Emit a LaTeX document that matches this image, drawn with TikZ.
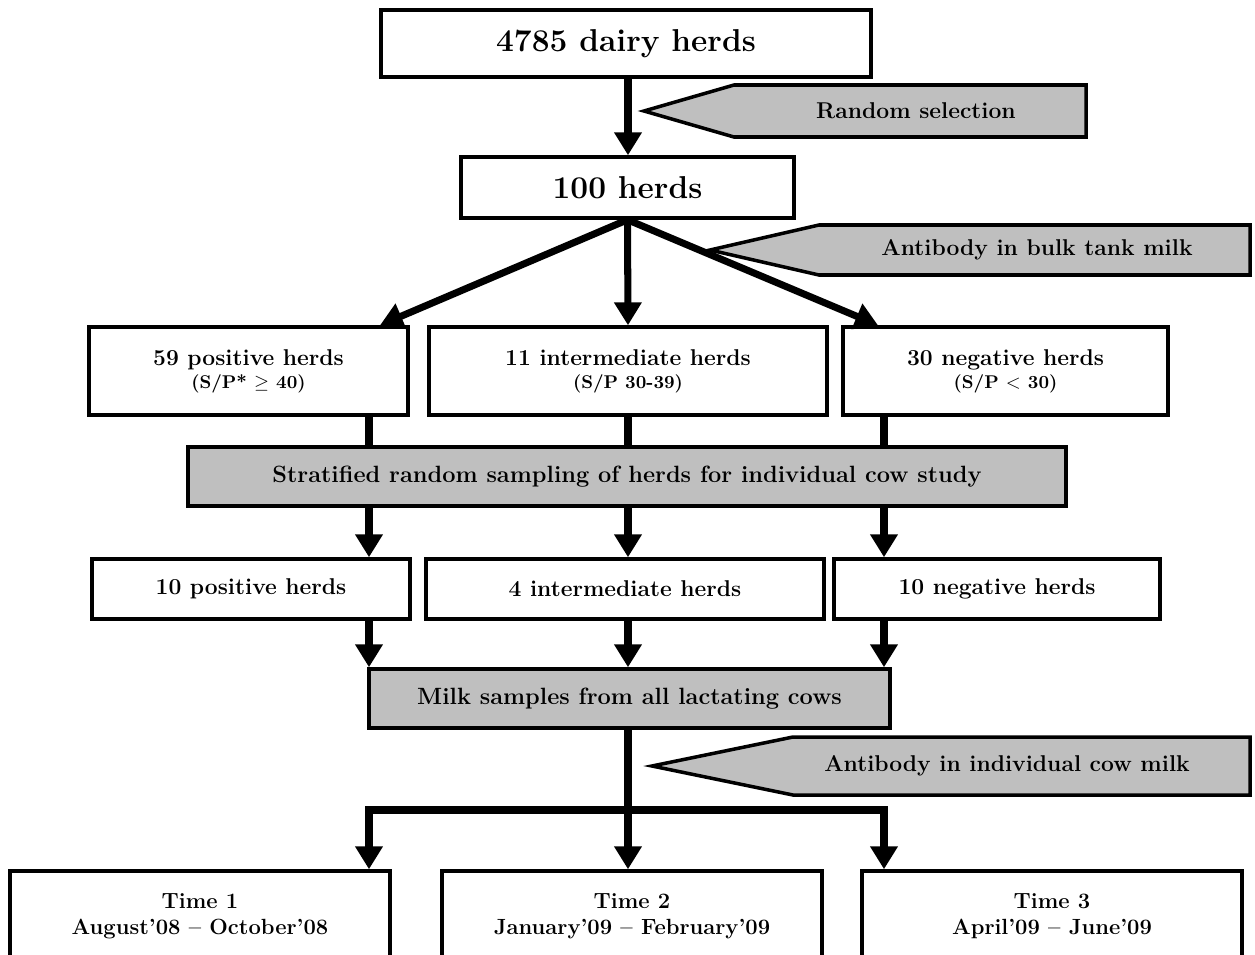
\documentclass[tikz,border=0pt]{standalone}
\usepackage{tikz}
\usetikzlibrary{arrows.meta}
\def\tagpiece#1#2#3{-- ++(#1,#3) -- ++(#2,0) -- ++(0,-2*#3) -- ++(-#2,0) -- cycle}

\begin{document}
\begin{tikzpicture}[
        box/.style={draw, line width=2pt, fill=white, align=center, inner sep=0pt,
            font=\bfseries\fontsize{13}{16}\selectfont},
        greybox/.style={box, fill=black!25, font=\bfseries\fontsize{13.4}{16}\selectfont},
        big/.style={font=\bfseries\fontsize{18}{22}\selectfont},
        timebox/.style={box, minimum width=7.6cm, minimum height=1.8cm,
            font=\bfseries\fontsize{12.5}{15}\selectfont},
        tag/.style={draw, line width=2pt, fill=black!25, line join=miter},
        tagtext/.style={font=\bfseries\fontsize{13}{16}\selectfont},
        link/.style={line width=4pt},
        flow/.style={link, -{Triangle[width=15pt,length=13pt]}}]
    \clip (0,0) rectangle (25.1,-19.1);
    \coordinate (cl) at (7.38,0);
    \coordinate (cm) at (12.56,0);
    \coordinate (cr) at (17.68,0);
    \coordinate (lt) at (7.6,0);
    \coordinate (rt) at (17.56,0);
    \coordinate (bar) at (12.56,-16.2);
    % top
    \node[box, big, minimum width=9.8cm, minimum height=1.34cm] (dairy) at (12.52,-0.87) {4785 dairy herds};
    \node[box, big, minimum width=6.66cm, minimum height=1.22cm] (hund) at (12.55,-3.75) {100 herds};
    % bulk tank result
    \node[box, minimum width=6.38cm, minimum height=1.76cm] (pos1) at (4.97,-7.42)
        {59 positive herds\\[-3pt]{\fontsize{10.5}{14}\selectfont (S/P* $\geq$ 40)}};
    \node[box, minimum width=7.96cm, minimum height=1.76cm] (mid1) at (12.56,-7.42)
        {11 intermediate herds\\[-3pt]{\fontsize{10.5}{14}\selectfont (S/P 30-39)}};
    \node[box, minimum width=6.5cm, minimum height=1.76cm] (neg1) at (20.11,-7.42)
        {30 negative herds\\[-3pt]{\fontsize{10.5}{14}\selectfont (S/P $<$ 30)}};
    \node[greybox, minimum width=17.56cm, minimum height=1.18cm] (strat) at (12.54,-9.53)
        {Stratified random sampling of herds for individual cow study};
    % sampled herds
    \node[box, minimum width=6.36cm, minimum height=1.2cm] (pos2) at (5.02,-11.78) {10 positive herds};
    \node[box, minimum width=7.96cm, minimum height=1.2cm] (mid2) at (12.5,-11.78) {4 intermediate herds};
    \node[box, minimum width=6.52cm, minimum height=1.2cm] (neg2) at (19.94,-11.78) {10 negative herds};
    \node[greybox, minimum width=10.42cm, minimum height=1.18cm] (milk) at (12.59,-13.97)
        {Milk samples from all lactating cows};
    % times
    \node[timebox] (t1) at (4.0,-18.32) {Time 1\\August'08 -- October'08};
    \node[timebox] (t2) at (12.64,-18.32) {Time 2\\January'09 -- February'09};
    \node[timebox] (t3) at (21.04,-18.32) {Time 3\\April'09 -- June'09};
    % connectors
    \draw[flow] (dairy.south -| cm) -- (hund.north -| cm);
    \draw[flow] (hund.south) -- (pos1.north -| lt);
    \draw[flow] (hund.south) -- (mid1.north -| cm);
    \draw[flow] (hund.south) -- (neg1.north -| rt);
    \draw[link] (pos1.south -| cl) -- (strat.north -| cl);
    \draw[link] (mid1.south -| cm) -- (strat.north -| cm);
    \draw[link] (neg1.south -| cr) -- (strat.north -| cr);
    \draw[flow] (strat.south -| cl) -- (pos2.north -| cl);
    \draw[flow] (strat.south -| cm) -- (mid2.north -| cm);
    \draw[flow] (strat.south -| cr) -- (neg2.north -| cr);
    \draw[flow] (pos2.south -| cl) -- (milk.north -| cl);
    \draw[flow] (mid2.south -| cm) -- (milk.north -| cm);
    \draw[flow] (neg2.south -| cr) -- (milk.north -| cr);
    \draw[flow] (milk.south -| cm) -- (t2.north -| cm);
    \draw[flow] (bar) -| (t1.north -| cl);
    \draw[flow] (bar) -| (t3.north -| cr);
    % side tags
    \draw[tag] (12.88,-2.22) \tagpiece{1.8}{7.04}{0.52};
    \node[tagtext] (rsel) at (18.32,-2.22) {Random selection};
    \draw[tag] (14.2,-5.0) \tagpiece{2.18}{8.62}{0.5};
    \node[tagtext] (bulk) at (20.74,-5.0) {Antibody in bulk tank milk};
    \draw[tag] (13.04,-15.32) \tagpiece{2.82}{9.14}{0.58};
    \node[tagtext] (indiv) at (20.14,-15.32) {Antibody in individual cow milk};
\end{tikzpicture}
\end{document}
